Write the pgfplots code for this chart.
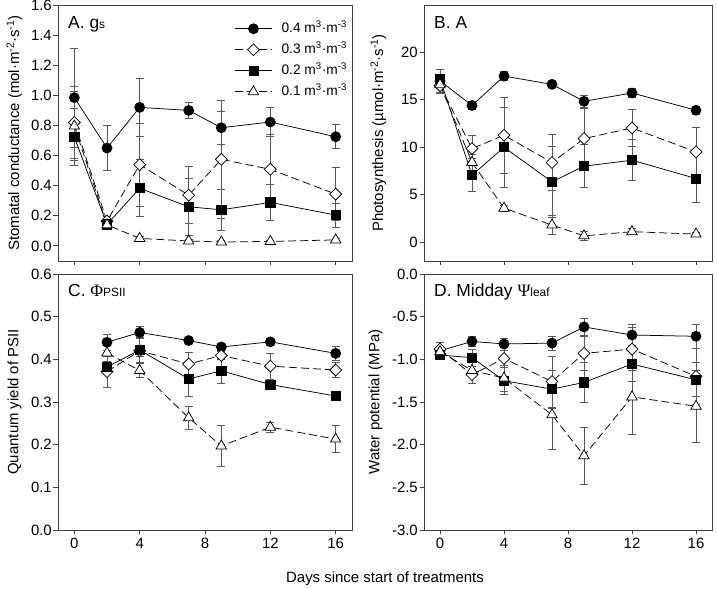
\documentclass[border=0pt]{standalone}
\usepackage{fontspec}
\setmainfont{Liberation Sans}
\newfontfamily\greekfont{Liberation Serif}
\usepackage{pgfplots}
\pgfplotsset{compat=1.18}

\newcommand{\lbl}{\fontsize{15}{18}\selectfont}
\newcommand{\leg}{\fontsize{13.8}{16}\selectfont}
\newcommand{\ttl}{\fontsize{17.5}{20}\selectfont}
\newcommand{\sm}{\fontsize{12}{14}\selectfont}

\pgfplotsset{
  common/.style={
    scale only axis, height=256bp,
    xmin=-1, xmax=17, xtick={0,4,8,12,16},
    tick align=outside, tick pos=left, major tick length=4.5bp,
    axis line style={black!75, line width=0.9bp},
    every tick/.style={black!75, line width=0.9bp},
    tick label style={font=\lbl},
    yticklabel style={inner xsep=1.5bp},
    label style={font=\lbl},
    /pgf/number format/assume math mode=true,
    clip=false,
  },
  onedec/.style={yticklabel style={/pgf/number format/.cd, fixed, fixed zerofill, precision=1}},
  s4/.style={black, line width=0.75bp, solid, mark=*, mark size=5bp, mark options={solid, fill=black}},
  s3/.style={black, line width=0.75bp, dash pattern=on 8bp off 4bp, mark=square*, mark size=4.2bp, mark options={solid, fill=white, rotate=45}},
  s2/.style={black, line width=0.75bp, solid, mark=square*, mark size=4.6bp, mark options={solid, fill=black}},
  s1/.style={black, line width=0.75bp, dash pattern=on 8bp off 4bp, mark=triangle*, mark size=6bp, mark options={solid, fill=white}},
  err/.style={error bars/.cd, y dir=both, y explicit,
    error bar style={black!65, line width=0.8bp, solid},
    error mark options={rotate=90, black!65, line width=0.8bp, mark size=4bp, solid}},
}
\newcommand{\legtxt}[1]{\hspace*{8bp}#1 m\textsuperscript{3}·m\textsuperscript{-3}}

\begin{document}
\begin{tikzpicture}
\useasboundingbox (0bp,0bp) rectangle (717bp,589bp);

% ---------------- Panel A ----------------
\begin{axis}[common, onedec, at={(58bp,328bp)}, anchor=south west, width=294bp,
  ymin=-0.1, ymax=1.6, ytick={0,0.2,...,1.6}, xticklabels={},
  ylabel={Stomatal conductance (mol·m\textsuperscript{-2}·s\textsuperscript{-1})},
  ylabel style={at={(rel axis cs:-0.148,0.5)}, anchor=center},
  legend style={at={(rel axis cs:0.6,0.94)}, anchor=north west, draw=none, fill=none,
    inner sep=0pt, row sep=4.6bp, font=\leg,
    nodes={inner sep=1.2bp, text height=11bp, text depth=3bp}},
  legend cell align=left,
  legend image code/.code={\draw[mark repeat=2,mark phase=2,#1] plot coordinates {(0bp,0bp) (18.5bp,0bp) (37bp,0bp)};},
]
\addplot[s4, err] table[x=x, y=y, y error=e] {
x y e
0 0.985 0.33
2 0.65 0.15
4 0.92 0.195
7 0.90 0.05
9 0.785 0.11
12 0.823 0.097
16 0.725 0.08
};
\addlegendentry{\legtxt{0.4}}
\addplot[s3, err] table[x=x, y=y, y error=e] {
x y e
0 0.82 0.24
2 0.165 0.03
4 0.54 0.275
7 0.337 0.19
9 0.575 0.39
12 0.509 0.23
16 0.344 0.176
};
\addlegendentry{\legtxt{0.3}}
\addplot[s2, err] table[x=x, y=y, y error=e] {
x y e
0 0.723 0.19
2 0.143 0.03
4 0.383 0.19
7 0.26 0.19
9 0.24 0.135
12 0.289 0.12
16 0.205 0.08
};
\addlegendentry{\legtxt{0.2}}
\addplot[s1, err] table[x=x, y=y, y error=e] {
x y e
0 0.796 0.23
2 0.14 0.03
4 0.05 0.012
7 0.033 0.01
9 0.026 0.008
12 0.03 0.008
16 0.04 0.01
};
\addlegendentry{\legtxt{0.1}}
\node[anchor=north west, inner sep=0pt, font=\ttl] at (rel axis cs:0,1) [xshift=10bp, yshift=-11bp] {A. g{\sm s}};
\end{axis}

% ---------------- Panel B ----------------
\begin{axis}[common, at={(424bp,328bp)}, anchor=south west, width=288bp,
  ymin=-2, ymax=25, ytick={0,5,...,20}, xticklabels={},
  ylabel={Photosynthesis (µmol·m\textsuperscript{-2}·s\textsuperscript{-1})},
  ylabel style={at={(rel axis cs:-0.158,0.5)}, anchor=center},
]
\addplot[s4, err] table[x=x, y=y, y error=e] {
x y e
0 17.0 0.5
2 14.4 0.4
4 17.5 0.5
7 16.63 0.3
9 14.84 0.63
12 15.72 0.5
16 13.9 0.4
};
\addplot[s3, err] table[x=x, y=y, y error=e] {
x y e
0 16.5 0.7
2 9.86 1.35
4 11.26 4.0
7 8.39 2.95
9 10.91 3.16
12 12.03 1.97
16 9.51 2.56
};
\addplot[s2, err] table[x=x, y=y, y error=e] {
x y e
0 17.2 1.0
2 7.05 1.75
4 10.0 4.2
7 6.35 3.7
9 8.0 2.28
12 8.63 2.17
16 6.7 2.56
};
\addplot[s1, err] table[x=x, y=y, y error=e] {
x y e
0 16.6 0.9
2 8.4 0.8
4 3.57 0.3
7 1.79 1.0
9 0.65 0.45
12 1.09 0.3
16 0.84 0.2
};
\node[anchor=north west, inner sep=0pt, font=\ttl] at (rel axis cs:0,1) [xshift=10bp, yshift=-11bp] {B. A};
\end{axis}

% ---------------- Panel C ----------------
\begin{axis}[common, onedec, at={(58bp,59bp)}, anchor=south west, width=294bp,
  ymin=0, ymax=0.6, ytick={0,0.1,...,0.6},
  ylabel={Quantum yield of PSII},
  ylabel style={at={(rel axis cs:-0.148,0.5)}, anchor=center},
]
\addplot[s4, err] table[x=x, y=y, y error=e] {
x y e
2 0.44 0.019
4 0.463 0.015
7 0.444 0.006
9 0.429 0.008
12 0.441 0.007
16 0.414 0.017
};
\addplot[s3, err] table[x=x, y=y, y error=e] {
x y e
2 0.371 0.037
4 0.42 0.012
7 0.389 0.027
9 0.409 0.01
12 0.384 0.03
16 0.375 0.017
};
\addplot[s2, err] table[x=x, y=y, y error=e] {
x y e
2 0.382 0.014
4 0.422 0.03
7 0.354 0.041
9 0.373 0.029
12 0.341 0.005
16 0.314 0.007
};
\addplot[s1, err] table[x=x, y=y, y error=e] {
x y e
2 0.415 0.02
4 0.374 0.017
7 0.263 0.027
9 0.197 0.049
12 0.241 0.012
16 0.213 0.031
};
\node[anchor=north west, inner sep=0pt, font=\ttl] at (rel axis cs:0,1) [xshift=10bp, yshift=-10bp] {C. {\greekfont Φ}{\sm PSII}};
\end{axis}

% ---------------- Panel D ----------------
\begin{axis}[common, onedec, at={(424bp,59bp)}, anchor=south west, width=288bp,
  ymin=-3, ymax=0, ytick={-3,-2.5,...,0},
  ylabel={Water potential (MPa)},
  ylabel style={at={(rel axis cs:-0.168,0.5)}, anchor=center},
]
\addplot[s4, err] table[x=x, y=y, y error=e] {
x y e
0 -0.90 0.1
2 -0.79 0.06
4 -0.82 0.07
7 -0.81 0.08
9 -0.62 0.1
12 -0.715 0.12
16 -0.73 0.14
};
\addplot[s3, err] table[x=x, y=y, y error=e] {
x y e
0 -0.88 0.08
2 -1.18 0.1
4 -0.99 0.1
7 -1.26 0.3
9 -0.93 0.2
12 -0.88 0.25
16 -1.2 0.33
};
\addplot[s2, err] table[x=x, y=y, y error=e] {
x y e
0 -0.95 0.05
2 -0.98 0.1
4 -1.25 0.16
7 -1.35 0.22
9 -1.27 0.23
12 -1.055 0.2
16 -1.24 0.2
};
\addplot[s1, err] table[x=x, y=y, y error=e] {
x y e
0 -0.91 0.06
2 -1.13 0.15
4 -1.22 0.15
7 -1.65 0.41
9 -2.13 0.33
12 -1.44 0.44
16 -1.55 0.42
};
\node[anchor=north west, inner sep=0pt, font=\ttl] at (rel axis cs:0,1) [xshift=10bp, yshift=-10bp] {D. Midday {\greekfont Ψ}{\sm leaf}};
\end{axis}

\node[font=\lbl] at (385bp,10bp) {Days since start of treatments};
\end{tikzpicture}
\end{document}
